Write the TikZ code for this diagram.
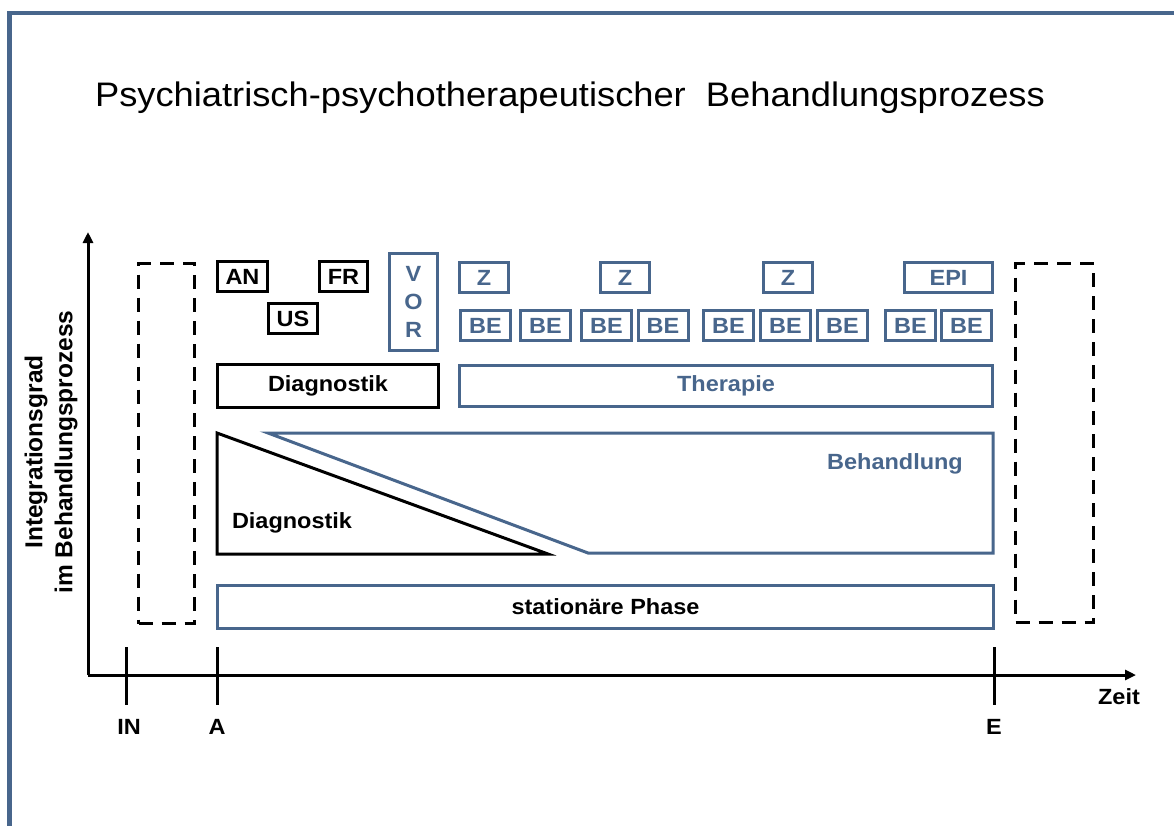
\documentclass[tikz,border=0pt]{standalone}
\usepackage{fontspec}
\setmainfont{Liberation Sans}[FakeStretch=1.067]
\newfontfamily\axisfont{Liberation Sans}
\usetikzlibrary{arrows.meta}
\definecolor{slate}{RGB}{72,102,140}
\begin{document}
\begin{tikzpicture}[x=1pt,y=-1pt,
  lbl/.style={font=\fontsize{22}{26}\selectfont\bfseries},
  sz/.style 2 args={minimum width=#1pt,minimum height=#2pt},
  kbox/.style={draw=black,line width=3pt,inner sep=0pt,lbl},
  sbox/.style={draw=slate,text=slate,line width=3pt,inner sep=0pt,lbl},
  dbox/.style={draw=black,line width=3pt,dash pattern=on 14pt off 9pt,inner sep=0pt},
  axisline/.style={draw=black,line width=3pt},
  tickline/.style={draw=black,line width=3pt},
  txt/.style={lbl,inner sep=0pt}
]
\useasboundingbox (0,0) rectangle (1174,825);
\clip (0,0) rectangle (1174,825);
\fill[white] (0,0) rectangle (1174,825);

% outer frame
\draw[slate,line width=4.5pt] (9.5,840) -- (9.5,13) -- (1190,13);

% title
\node[anchor=base,inner sep=0pt,font=\fontsize{34}{40}\selectfont] (title) at (570,106)
  {Psychiatrisch-psychotherapeutischer\ \ Behandlungsprozess};

% axes
\coordinate (O) at (88,675);
\coordinate (ytip) at (88,232);
\coordinate (xtip) at (1136,675);
\draw[axisline,-{Triangle[length=11pt,width=10pt]}] (O) -- (ytip);
\draw[axisline,-{Triangle[length=11pt,width=10pt]}] (O) -- (xtip);

% time marks
\coordinate (tIN1) at (126,647); \coordinate (tIN2) at (126,705);
\coordinate (tA1) at (217,647);  \coordinate (tA2) at (217,705);
\coordinate (tE1) at (994,647);  \coordinate (tE2) at (994,705);
\draw[tickline] (tIN1) -- (tIN2);
\draw[tickline] (tA1) -- (tA2);
\draw[tickline] (tE1) -- (tE2);
\node[txt] (lIN) at (129,727) {IN};
\node[txt] (lA) at (217,727) {A};
\node[txt] (lE) at (994,727) {E};
\node[txt] (lZeit) at (1119,697) {Zeit};

% axis title
\node[rotate=90,align=center,inner sep=0pt,
      font=\axisfont\fontsize{24.5}{30}\selectfont\bfseries] (ylab) at (51,452)
  {Integrationsgrad\\im Behandlungsprozess};

% before admission / after discharge
\node[dbox,sz={56}{360}] (pre) at (166.5,443.5) {};
\node[dbox,sz={78}{359}] (post) at (1054.5,443) {};

% diagnostic steps
\node[kbox,sz={50}{30}] (AN) at (242.5,276.5) {AN};
\node[kbox,sz={48}{30}] (FR) at (343.5,276.5) {FR};
\node[kbox,sz={49}{30}] (US) at (293,318.5) {US};
\node[sbox,sz={48}{97},align=center,font=\fontsize{22}{28}\selectfont\bfseries] (VOR) at (413.5,302) {V\\O\\R};

% therapy steps
\node[sbox,sz={49}{30}] (Z1) at (484,277.5) {Z};
\node[sbox,sz={49}{30}] (Z2) at (625,277.5) {Z};
\node[sbox,sz={49}{30}] (Z3) at (788,277.5) {Z};
\node[sbox,sz={88}{30}] (EPI) at (948.5,277.5) {EPI};

\foreach \i/\x in {1/485.5,2/545.5,3/606.5,4/663,5/728.5,6/785.5,7/842.5,8/910.5,9/966.5}
  \node[sbox,sz={50}{30}] (BE\i) at (\x,325.5) {BE};

% phases
\node[kbox,sz={221}{43}] (diag) at (328,385.5) {Diagnostik};
\node[sbox,sz={533}{41}] (ther) at (726,385.5) {Therapie};

% shares of diagnostics and treatment
\coordinate (d1) at (217,433);
\coordinate (d2) at (217,554);
\coordinate (d3) at (548,554);
\draw[black,line width=3pt,line join=miter] (d1) -- (d2) -- (d3) -- cycle;
\node[txt] (diagshare) at (292,523) {Diagnostik};

\coordinate (b1) at (268,433);
\coordinate (b2) at (993,433);
\coordinate (b3) at (993,553);
\coordinate (b4) at (588,553);
\draw[slate,line width=3pt,line join=miter] (b1) -- (b2) -- (b3) -- (b4) -- cycle;
\node[txt,text=slate] (behshare) at (895,464) {Behandlung};

% inpatient phase
\node[draw=slate,line width=3pt,inner sep=0pt,lbl,sz={776}{43}] (stat) at (605.5,607) {station\"are Phase};
\end{tikzpicture}
\end{document}
